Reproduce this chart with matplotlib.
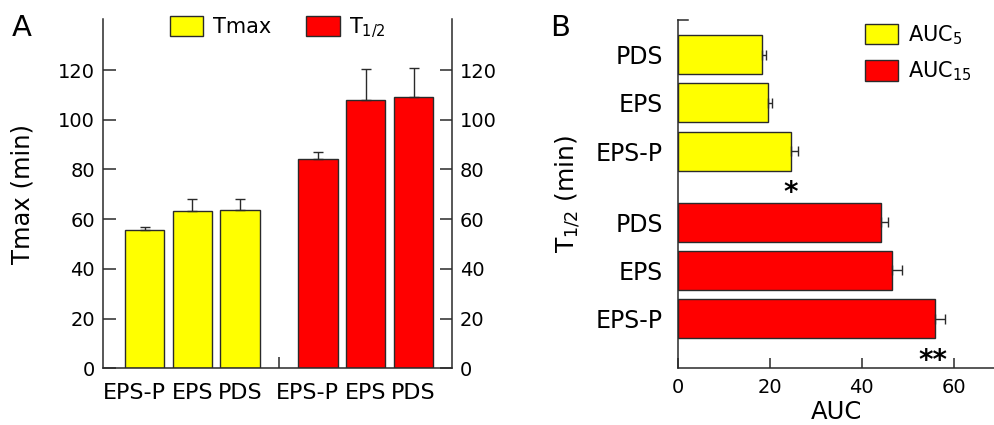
import matplotlib
matplotlib.use("Agg")
import matplotlib.pyplot as plt
from matplotlib.patches import Patch

plt.rcParams['font.family'] = ['DejaVu Sans']
plt.rcParams['mathtext.default'] = 'regular'

# ---- data ----
groups = ["EPS-P", "EPS", "PDS"]
tmax = [55.6, 63.2, 63.6]
tmax_err = [1.1, 4.8, 4.4]
thalf = [84.2, 107.8, 109.0]
thalf_err = [2.7, 12.5, 11.8]

auc_groups = ["EPS-P", "EPS", "PDS"]
auc5 = [24.6, 19.7, 18.4]
auc5_err = [1.5, 0.9, 0.9]
auc15 = [55.9, 46.7, 44.3]
auc15_err = [2.2, 2.0, 1.5]

yticks_a = [0, 20, 40, 60, 80, 100, 120]
xticks_b = [0, 20, 40, 60]

YELLOW = "#ffff00"
RED = "#ff0000"
EDGE = "#2a2a2a"
LW = 1.1

fig = plt.figure(figsize=(9.95, 4.25), dpi=100)

# ---------------- Panel A ----------------
axA = fig.add_axes([0.104, 0.1334, 0.350, 0.8212])
posY = [1, 2, 3]
posR = [4.635, 5.635, 6.635]
w = 0.825
ek = dict(ecolor=EDGE, elinewidth=1.0, capsize=3.5, capthick=1.0)
axA.bar(posY, tmax, width=w, color=YELLOW, edgecolor=EDGE, linewidth=1.0,
        yerr=[[0]*3, tmax_err], error_kw=ek, label="Tmax", zorder=2)
axA.bar(posR, thalf, width=w, color=RED, edgecolor=EDGE, linewidth=1.0,
        yerr=[[0]*3, thalf_err], error_kw=ek, label="T$_{1/2}$", zorder=2)
axA.set_xlim(0.136, 7.436)
axA.set_ylim(0, 140.4)
axA.set_yticks(yticks_a)
axA.set_xticks([3.815])
axA.set_xticklabels([""])
axA.tick_params(axis='x', direction='in', length=8, width=LW, color=EDGE)
axA.tick_params(axis='y', direction='in', length=9, width=LW, labelsize=14,
                color=EDGE, left=True, right=True, labelleft=True, labelright=True, pad=6)
for sp in ['left', 'right', 'bottom']:
    axA.spines[sp].set_linewidth(LW)
    axA.spines[sp].set_color(EDGE)
axA.spines['top'].set_visible(False)
for p, g in zip(posY + posR, groups + groups):
    if g == "EPS-P":
        axA.text(p + w / 2 + 0.03, -6, g, ha='right', va='top', fontsize=16)
    else:
        axA.text(p, -6, g, ha='center', va='top', fontsize=16)
axA.set_ylabel("Tmax (min)", fontsize=17.5, labelpad=17)
hA = [Patch(facecolor=YELLOW, edgecolor=EDGE, linewidth=1.0),
      Patch(facecolor=RED, edgecolor=EDGE, linewidth=1.0)]
axA.legend(hA, ["Tmax", "T$_{1/2}$"], loc='upper center', bbox_to_anchor=(0.5, 1.065),
           ncol=2, frameon=False, fontsize=15, handlelength=1.6, handleheight=1.15,
           columnspacing=1.7, handletextpad=0.45)
fig.text(0.012, 0.967, "A", fontsize=21, va='top', ha='left')

# ---------------- Panel B ----------------
axB = fig.add_axes([0.6811, 0.1334, 0.3189, 0.8196])
posR_b = [1.025, 2.025, 3.025]
posY_b = [4.495, 5.495, 6.495]
h = 0.807
ekb = dict(ecolor=EDGE, elinewidth=1.0, capsize=3.5, capthick=1.0)
axB.barh(posY_b, auc5, height=h, color=YELLOW, edgecolor=EDGE, linewidth=1.0,
         xerr=[[0]*3, auc5_err], error_kw=ekb, zorder=2)
axB.barh(posR_b, auc15, height=h, color=RED, edgecolor=EDGE, linewidth=1.0,
         xerr=[[0]*3, auc15_err], error_kw=ekb, zorder=2)
axB.set_xlim(0, 69.0)
axB.set_ylim(0, 7.21)
axB.set_xticks(xticks_b)
axB.tick_params(axis='x', direction='in', length=7, width=LW, labelsize=14,
                color=EDGE, pad=7)
axB.set_yticks(posR_b + posY_b + [7.21])
axB.set_yticklabels(auc_groups + auc_groups + [""], fontsize=17)
axB.tick_params(axis='y', direction='in', length=0, pad=10.5)
axB.plot([0, 0.032], [7.21, 7.21], transform=axB.get_yaxis_transform(),
         color=EDGE, lw=LW, clip_on=False)
for sp in ['left', 'bottom']:
    axB.spines[sp].set_linewidth(LW)
    axB.spines[sp].set_color(EDGE)
axB.spines['top'].set_visible(False)
axB.spines['right'].set_visible(False)
axB.set_xlabel("AUC", fontsize=17.5, labelpad=2)
axB.set_ylabel("T$_{1/2}$ (min)", fontsize=18, labelpad=10)
axB.text(auc5[0], 3.62, "*", ha='center', va='center', fontsize=20, fontweight='bold')
axB.text(auc15[0] - 0.3, 0.15, "**", ha='center', va='center', fontsize=20, fontweight='bold')
hB = [Patch(facecolor=YELLOW, edgecolor=EDGE, linewidth=1.0),
      Patch(facecolor=RED, edgecolor=EDGE, linewidth=1.0)]
axB.legend(hB, ["AUC$_5$", "AUC$_{15}$"], loc='upper right', bbox_to_anchor=(0.985, 1.045),
           frameon=False, fontsize=15, handlelength=1.6, handleheight=1.15,
           labelspacing=0.62, handletextpad=0.45)
fig.text(0.553, 0.967, "B", fontsize=21, va='top', ha='left')

fig.savefig("out.png", dpi=100)
